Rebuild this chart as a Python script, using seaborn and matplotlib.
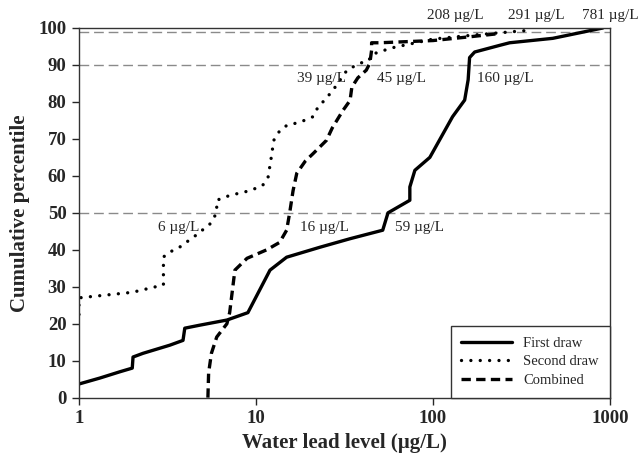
import numpy as np
import pandas as pd
import matplotlib
matplotlib.use("Agg")
import matplotlib.pyplot as plt
import seaborn as sns
from matplotlib.lines import Line2D

# cumulative distribution curves (x in ug/L, y in percentile)
first_x = [1.0, 1.31, 1.7, 2.0, 2.02, 2.3, 3.26, 3.87, 3.96, 4.8, 6.85, 9.0, 12.0, 14.9, 23.0,
           34.0, 52.0, 55.7, 74.0, 74.0, 79.0, 96.0, 129.0, 151.0, 158.0, 161.0, 172.0, 238.0,
           271.0, 475.0, 911.0]
first_y = [3.7, 5.3, 7.0, 8.0, 11.0, 12.0, 14.2, 15.5, 18.8, 19.6, 21.0, 23.0, 34.5, 38.0, 40.7,
           43.0, 45.3, 50.0, 53.4, 57.0, 61.5, 65.0, 76.0, 80.5, 86.0, 92.0, 93.5, 95.3,
           96.0, 97.2, 100.0]

second_x = [1.0, 1.0, 2.0, 3.0, 3.0, 3.14, 3.7, 4.6, 5.5, 6.0, 6.0, 7.1, 9.25, 10.9, 11.7, 12.2,
            12.6, 13.7, 15.0, 17.7, 21.0, 22.4, 25.0, 28.0, 32.7, 38.7, 43.0, 45.8, 50.0,
            57.0, 100.0, 180.0, 354.0]
second_y = [22.5, 27.0, 28.5, 30.5, 38.0, 39.0, 40.7, 44.0, 47.0, 50.0, 53.4, 54.7, 56.0, 57.4,
            59.6, 65.0, 69.6, 72.4, 73.7, 74.5, 76.0, 78.6, 81.0, 84.0, 88.6, 90.5, 91.0, 93.0,
            93.5, 94.5, 97.0, 98.2, 99.4]

comb_x = [5.35, 5.4, 5.6, 6.0, 6.85, 7.1, 7.6, 8.9, 11.5, 13.6, 14.9, 15.5, 16.2, 17.0, 19.0,
          21.0, 25.0, 27.0, 31.0, 34.0, 34.8, 37.6, 42.0, 44.0, 45.0, 45.0, 50.0, 100.0,
          160.0, 238.0]
comb_y = [0.0, 6.7, 12.0, 16.4, 20.0, 23.0, 34.5, 37.7, 40.0, 42.0, 45.3, 50.0, 56.0, 60.7,
          64.0, 66.0, 69.6, 73.0, 77.7, 80.4, 84.0, 86.5, 88.6, 90.5, 94.0, 96.0, 96.0, 96.6,
          97.6, 98.5]

ref_levels = [50, 90, 99]

note_text = ["208 \u00b5g/L", "291 \u00b5g/L", "781 \u00b5g/L", "39 \u00b5g/L", "45 \u00b5g/L",
             "160 \u00b5g/L", "6 \u00b5g/L", "16 \u00b5g/L", "59 \u00b5g/L"]
note_x = [92.5, 265, 695, 17.1, 48.3, 177, 2.8, 17.7, 61]
note_y = [103.4, 103.4, 103.4, 86.4, 86.4, 86.4, 46.0, 46.0, 46.0]

sns.set_style("ticks")
plt.rcParams["font.family"] = ["Liberation Serif", "DejaVu Serif"]

fig = plt.figure(figsize=(6.39, 4.58), dpi=100)
ax = fig.add_axes([0.1236, 0.1317, 0.8310, 0.8072])

for lev in ref_levels:
    ax.axhline(lev, color="#8a8a8a", lw=1.0, linestyle=(0, (7, 3.5)), zorder=1)

lw = 2.4
sns.lineplot(x=first_x, y=first_y, sort=False, estimator=None, color="black", lw=lw, ax=ax,
             solid_joinstyle="round")
sns.lineplot(x=second_x, y=second_y, sort=False, estimator=None, color="black", lw=lw, ax=ax,
             linestyle=(0, (0.01, 2.8)), dash_capstyle="round")
sns.lineplot(x=comb_x, y=comb_y, sort=False, estimator=None, color="black", lw=lw, ax=ax,
             linestyle=(0, (2.8, 1.6)))

for t, x, y in zip(note_text, note_x, note_y):
    ax.text(x, y, t, ha="left", va="center", fontsize=11, clip_on=False)

ax.set_xscale("log")
ax.set_xlim(1, 1000)
ax.set_ylim(0, 100)
ax.set_xticks([1, 10, 100, 1000])
ax.set_xticklabels(["1", "10", "100", "1000"])
ax.set_yticks(range(0, 101, 10))
ax.minorticks_off()
ax.tick_params(axis="both", direction="out", length=5, width=1, labelsize=13.5, pad=4)
for lab in ax.get_xticklabels() + ax.get_yticklabels():
    lab.set_fontweight("bold")
for s in ax.spines.values():
    s.set_linewidth(1.0)
    s.set_color("#333333")

ax.set_xlabel("Water lead level (\u00b5g/L)", fontsize=15, fontweight="bold", labelpad=4)
ax.set_ylabel("Cumulative percentile", fontsize=15, fontweight="bold", labelpad=6)

handles = [Line2D([], [], color="black", lw=lw),
           Line2D([], [], color="black", lw=lw, linestyle=(0, (0.01, 2.8)), dash_capstyle="round"),
           Line2D([], [], color="black", lw=lw, linestyle=(0, (2.8, 1.6)))]
leg = ax.legend(handles, ["First draw", "Second draw", "Combined"], loc="lower right",
                borderaxespad=0, fancybox=False, fontsize=10.5, handlelength=3.5,
                handletextpad=0.75, borderpad=0.75, labelspacing=0.35, framealpha=1)
leg.get_frame().set_edgecolor("#333333")
leg.get_frame().set_linewidth(1.0)

fig.savefig("out.png", dpi=100)
